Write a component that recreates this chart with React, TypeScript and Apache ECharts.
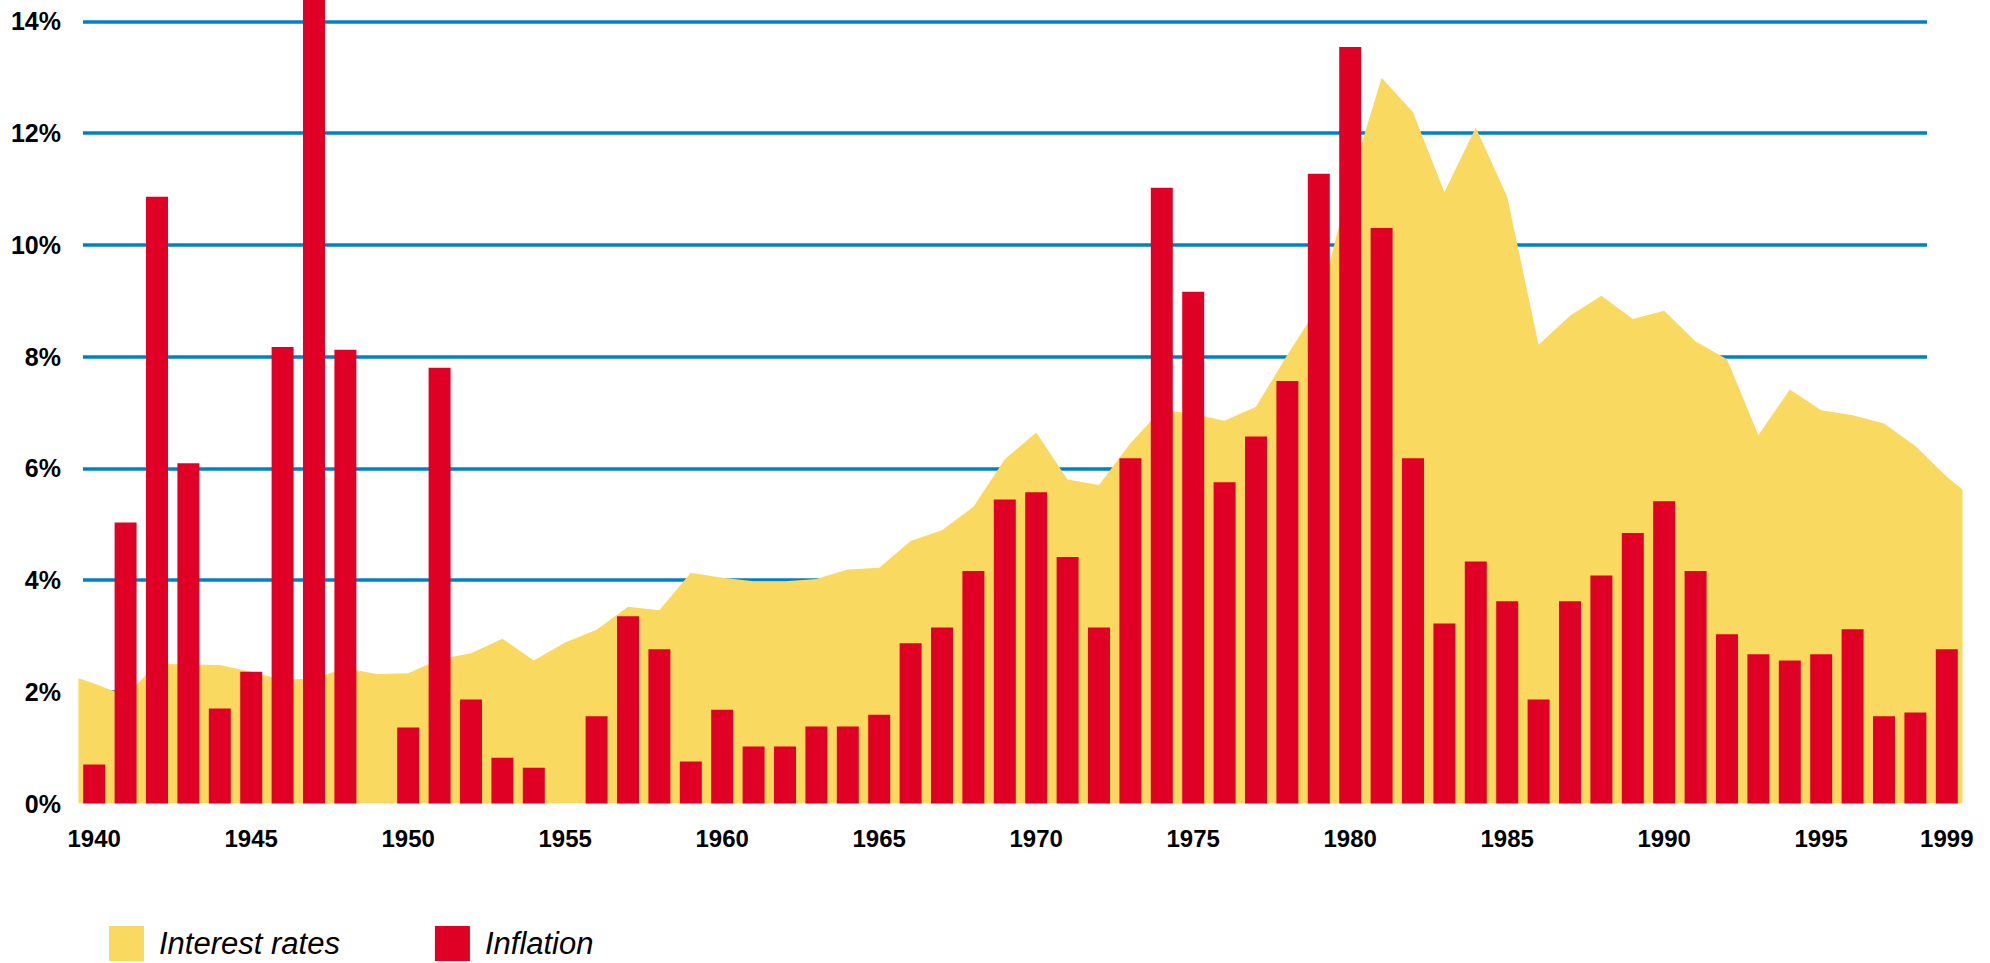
import React, { useEffect, useRef } from "react";
import * as echarts from "echarts";

const years = [
  "1940", "1941", "1942", "1943", "1944", "1945", "1946", "1947", "1948", "1949",
  "1950", "1951", "1952", "1953", "1954", "1955", "1956", "1957", "1958", "1959",
  "1960", "1961", "1962", "1963", "1964", "1965", "1966", "1967", "1968", "1969",
  "1970", "1971", "1972", "1973", "1974", "1975", "1976", "1977", "1978", "1979",
  "1980", "1981", "1982", "1983", "1984", "1985", "1986", "1987", "1988", "1989",
  "1990", "1991", "1992", "1993", "1994", "1995", "1996", "1997", "1998", "1999",
];

const inflation = [
  0.7, 5.03, 10.86, 6.09, 1.7, 2.36, 8.17, 14.4, 8.12, 0,
  1.36, 7.8, 1.86, 0.82, 0.64, 0, 1.56, 3.35, 2.76, 0.75,
  1.68, 1.02, 1.02, 1.38, 1.38, 1.59, 2.87, 3.15, 4.16, 5.44,
  5.57, 4.41, 3.15, 6.18, 11.02, 9.16, 5.75, 6.57, 7.56, 11.27,
  13.54, 10.3, 6.18, 3.22, 4.33, 3.62, 1.86, 3.62, 4.08, 4.84,
  5.41, 4.16, 3.03, 2.67, 2.56, 2.67, 3.12, 1.56, 1.63, 2.76,
];

const interestRates = [
  2.15, 1.93, 2.5, 2.49, 2.48, 2.36, 2.21, 2.24, 2.42, 2.32,
  2.33, 2.58, 2.69, 2.95, 2.56, 2.88, 3.11, 3.52, 3.46, 4.13,
  4.04, 3.98, 3.98, 4.02, 4.19, 4.22, 4.7, 4.89, 5.31, 6.16,
  6.64, 5.8, 5.7, 6.45, 7.05, 6.97, 6.85, 7.1, 8.03, 8.9,
  11.13, 12.99, 12.37, 10.94, 12.1, 10.86, 8.21, 8.73, 9.09, 8.67,
  8.82, 8.27, 7.95, 6.59, 7.41, 7.04, 6.95, 6.8, 6.4, 5.85,
];

// interest-rate area values at the outer edges of the first and last year
const interestRateStartEdge = 2.24;
const interestRateEndEdge = 5.62;

const seriesNames = ["Interest rates", "Inflation"];
const yMin = 0;
const yMax = 14;
const yStep = 2;

const YELLOW = "#F9D95F";
const RED = "#E10025";
const BLUE = "#0080C5";
const FONT = "'Liberation Sans', Arial, sans-serif";

export default function App() {
  const ref = useRef<HTMLDivElement>(null);

  useEffect(() => {
    if (!ref.current) return;
    const chart = echarts.init(ref.current, null, { renderer: "svg" });

    const areaData: number[][] = [
      [-0.5, interestRateStartEdge],
      ...interestRates.map((v, i) => [i, v]),
      [years.length - 0.5, interestRateEndEdge],
    ];

    chart.setOption({
      animation: false,
      backgroundColor: "#ffffff",
      grid: [
        { left: 83, right: 63, top: 21.3, bottom: 159.5 },
        { left: 78.5, right: 27.5, top: 21.3, bottom: 159.5 },
      ],
      legend: {
        left: 109,
        top: 926,
        padding: 0,
        itemWidth: 35,
        itemHeight: 35,
        itemGap: 95,
        icon: "rect",
        textStyle: {
          fontFamily: FONT,
          fontStyle: "italic",
          fontSize: 31,
          lineHeight: 34,
          color: "#000",
          padding: [0, 0, 0, 10],
        },
        data: [
          { name: seriesNames[0], itemStyle: { color: YELLOW } },
          { name: seriesNames[1], itemStyle: { color: RED } },
        ],
      },
      xAxis: [
        { type: "value", gridIndex: 0, show: false, min: 0, max: 1 },
        {
          type: "category",
          gridIndex: 1,
          data: years,
          boundaryGap: true,
          axisLine: { show: false },
          axisTick: { show: false },
          axisLabel: {
            interval: (_i: number, v: string) => Number(v) % 5 === 0 || v === "1999",
            fontFamily: FONT,
            fontWeight: "bold",
            fontSize: 24,
            color: "#000",
            margin: 23,
          },
        },
        { type: "value", gridIndex: 1, show: false, min: -0.5, max: years.length - 0.5 },
      ],
      yAxis: [
        {
          type: "value",
          gridIndex: 0,
          min: yMin,
          max: yMax,
          interval: yStep,
          axisLine: { show: false },
          axisTick: { show: false },
          axisLabel: {
            formatter: "{value}%",
            fontFamily: FONT,
            fontWeight: "bold",
            fontSize: 25,
            color: "#000",
            margin: 22,
          },
          splitLine: { show: true, showMinLine: false, lineStyle: { color: BLUE, width: 3.5 } },
        },
        { type: "value", gridIndex: 1, min: yMin, max: yMax, interval: yStep, show: false },
      ],
      series: [
        {
          name: seriesNames[0],
          type: "line",
          xAxisIndex: 2,
          yAxisIndex: 1,
          data: areaData,
          symbol: "none",
          color: YELLOW,
          lineStyle: { width: 0, color: YELLOW },
          areaStyle: { color: YELLOW, opacity: 1 },
          z: 2,
        },
        {
          name: seriesNames[1],
          type: "bar",
          xAxisIndex: 1,
          yAxisIndex: 1,
          data: inflation,
          barWidth: "70%",
          clip: false,
          itemStyle: { color: RED },
          z: 3,
        },
      ],
    });

    return () => chart.dispose();
  }, []);

  return (
    <div
      ref={ref}
      style={{ position: "fixed", left: 0, top: 0, width: 1990, height: 963 }}
    />
  );
}
